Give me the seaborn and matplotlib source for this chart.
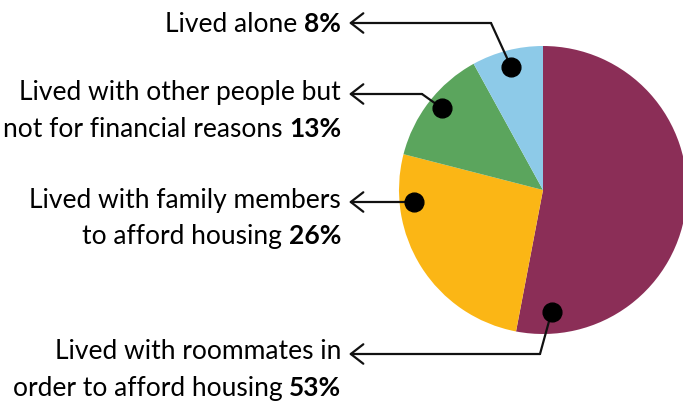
import matplotlib
matplotlib.use("Agg")
import matplotlib.pyplot as plt
import seaborn as sns
import numpy as np

# ---- data ----
categories = [
    "Lived with roommates in order to afford housing",
    "Lived with family members to afford housing",
    "Lived with other people but not for financial reasons",
    "Lived alone",
]
values = [53, 26, 13, 8]
colors = ["#8B2E57", "#FBB615", "#5BA55D", "#8DCAE8"]
label_lines = [
    ["Lived with roommates in", "order to afford housing"],
    ["Lived with family members", "to afford housing"],
    ["Lived with other people but", "not for financial reasons"],
    ["Lived alone"],
]
pct_labels = ["53%", "26%", "13%", "8%"]

# ---- layout (pixels, figure 683x405, pie centre 543,190, radius 144) ----
W, H = 683, 405
CX, CY, R = 543, 190, 144
dot_angle = [176, 264.7, 309, 345.5]   # degrees clockwise from 12 o'clock
dot_r = [0.85, 0.90, 0.90, 0.88]
elbow_px = [(540, 354), None, (422, 94), (491, 23)]
arrow_y_px = [354, 202, 94, 23]
baseline_px = [[359, 396], [208, 244], [100, 137], [32]]
tip_x_px = 349
text_right_px = 341

sns.set_theme(style="white")
plt.rcParams["font.family"] = ["Lato", "DejaVu Sans"]

fig = plt.figure(figsize=(W / 100, H / 100), dpi=100)
ax = fig.add_axes([0, 0, 1, 1])
ax.pie(values, colors=colors, startangle=90, counterclock=False,
       wedgeprops=dict(linewidth=0), radius=1)
ax.set_xlim(-CX / R, (W - CX) / R)
ax.set_ylim(-(H - CY) / R, CY / R)
ax.set_aspect("auto")
ax.axis("off")


def px(x, y):
    return (x - CX) / R, (CY - y) / R


tip_x = px(tip_x_px, 0)[0]
fs = 19
lc = "#111111"

fig.canvas.draw()
renderer = fig.canvas.get_renderer()

for i in range(len(values)):
    th = np.deg2rad(90 - dot_angle[i])
    dx, dy = dot_r[i] * np.cos(th), dot_r[i] * np.sin(th)
    ay = px(0, arrow_y_px[i])[1]
    if elbow_px[i] is not None:
        ex, ey = px(*elbow_px[i])
        ax.plot([dx, ex], [dy, ey], color=lc, lw=1.6, solid_capstyle="round", zorder=3)
    else:
        ex, ey = dx, ay
    ax.annotate("", xy=(tip_x, ay), xytext=(ex, ay),
                arrowprops=dict(arrowstyle="->,head_length=0.45,head_width=0.35",
                                color=lc, lw=1.6, shrinkA=0, shrinkB=0,
                                mutation_scale=20), zorder=3)
    ax.plot([dx], [dy], marker="o", markersize=13.5, color="black", zorder=4)

    xr = px(text_right_px, 0)[0]
    lines = label_lines[i]
    for j, line in enumerate(lines):
        by = px(0, baseline_px[i][j])[1]
        if j == len(lines) - 1:
            tb = ax.text(xr, by, pct_labels[i], ha="right", va="baseline",
                         fontsize=fs, fontweight="bold", color="black")
            bb = tb.get_window_extent(renderer)
            sp = ax.text(0, 0, "a a", fontsize=fs)
            w2 = sp.get_window_extent(renderer).width
            sp2 = ax.text(0, 0, "aa", fontsize=fs)
            w1 = sp2.get_window_extent(renderer).width
            sp.remove(); sp2.remove()
            space = (w2 - w1) / R
            ax.text(xr - bb.width / R - space, by, line, ha="right", va="baseline",
                    fontsize=fs, color="black")
        else:
            ax.text(xr, by, line, ha="right", va="baseline", fontsize=fs, color="black")

fig.savefig("out.png", dpi=100)
